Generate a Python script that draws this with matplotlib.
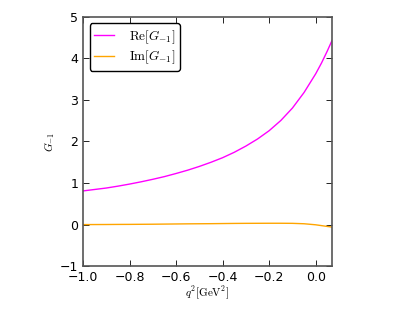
import matplotlib
matplotlib.use("Agg")
import matplotlib.pyplot as plt

plt.rcParams['mathtext.fontset'] = 'cm'
plt.rcParams['xtick.direction'] = 'in'
plt.rcParams['ytick.direction'] = 'in'
plt.rcParams['xtick.top'] = True
plt.rcParams['ytick.right'] = True

q2 = [-1.0, -0.95, -0.9, -0.85, -0.8, -0.75, -0.7, -0.65, -0.6, -0.55, -0.5, -0.45,
      -0.4, -0.35, -0.3, -0.25, -0.2, -0.15, -0.1, -0.05, 0.0, 0.025, 0.05, 0.07]
re_g = [0.81, 0.845, 0.88, 0.925, 0.975, 1.03, 1.09, 1.155, 1.23, 1.31, 1.40, 1.50,
        1.61, 1.74, 1.89, 2.06, 2.26, 2.505, 2.805, 3.18, 3.63, 3.89, 4.18, 4.43]
im_g = [0.0, 0.001, 0.002, 0.004, 0.005, 0.007, 0.009, 0.012, 0.015, 0.018, 0.02, 0.022,
        0.025, 0.028, 0.03, 0.031, 0.032, 0.032, 0.03, 0.02, -0.005, -0.025, -0.045, -0.06]

fig = plt.figure(figsize=(4.15, 3.12), dpi=100)
ax = fig.add_axes([0.2, 0.147, 0.6, 0.799])
ax.plot(q2, re_g, color='magenta', lw=1, label=r'$\mathrm{Re}[G_{-1}]$')
ax.plot(q2, im_g, color='orange', lw=1, label=r'$\mathrm{Im}[G_{-1}]$')
ax.set_xlim(-1.0, 0.07)
ax.set_ylim(-1, 5)
ax.set_xticks([-1.0, -0.8, -0.6, -0.4, -0.2, 0.0])
ax.set_yticks([-1, 0, 1, 2, 3, 4, 5])
ax.tick_params(labelsize=9, length=4, width=0.6)
ax.set_xlabel(r'$q^2[\mathrm{GeV}^2]$', fontsize=8, labelpad=1)
ax.set_ylabel(r'$G_{-1}$', fontsize=8, labelpad=2)
for s in ax.spines.values():
    s.set_linewidth(1.2)
    s.set_color('#555555')
leg = ax.legend(loc='upper left', fontsize=9.5, fancybox=True, framealpha=1,
                borderaxespad=0.5, handlelength=1.5, handletextpad=1.1,
                borderpad=0.35, labelspacing=0.25)
leg.get_frame().set_edgecolor('black')
fig.savefig('out.png', dpi=100, facecolor='white')
